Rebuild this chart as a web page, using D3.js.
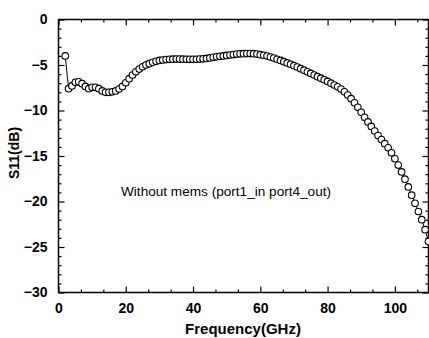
<!DOCTYPE html>
<html>
<head>
<meta charset="utf-8">
<script src="https://cdn.jsdelivr.net/npm/d3@7"></script>
<style>
  body { margin: 0; background: #fff; }
  svg { display: block; font-family: Arial, "Liberation Sans", sans-serif; }
</style>
</head>
<body>
<svg id="chart" width="429" height="338"></svg>
<script>
// S11 vs frequency, one point per GHz from 2 to 110
const freqStart = 2;
const s11 = [
  -4.0, -7.6, -7.3, -6.9, -6.85, -7.05, -7.35, -7.6, -7.45, -7.45,
  -7.6, -7.85, -8.0, -8.0, -7.95, -7.85, -7.65, -7.35, -6.95, -6.5,
  -6.1, -5.75, -5.45, -5.2, -5.0, -4.85, -4.7, -4.6, -4.5, -4.45,
  -4.4, -4.38, -4.36, -4.35, -4.35, -4.36, -4.37, -4.38, -4.38, -4.37,
  -4.35, -4.32, -4.28, -4.22, -4.16, -4.1, -4.05, -4.0, -3.95, -3.9,
  -3.85, -3.8, -3.77, -3.75, -3.74, -3.74, -3.76, -3.8, -3.86, -3.93,
  -4.02, -4.12, -4.24, -4.37, -4.5, -4.63, -4.77, -4.92, -5.07, -5.23,
  -5.4, -5.57, -5.75, -5.93, -6.1, -6.28, -6.45, -6.62, -6.8, -7.0,
  -7.2, -7.4, -7.65, -7.95, -8.3, -8.7, -9.15, -9.65, -10.2, -10.75,
  -11.25, -11.75, -12.25, -12.75, -13.2, -13.65, -14.1, -14.65, -15.3, -16.0,
  -16.75, -17.55, -18.4, -19.3, -20.2, -21.1, -22.0, -23.1, -24.4
];
const xTicks = [0, 20, 40, 60, 80, 100];
const yTicks = [0, -5, -10, -15, -20, -25, -30];
const xLabel = "Frequency(GHz)";
const yLabel = "S11(dB)";
const note = "Without mems (port1_in port4_out)";

const data = s11.map((v, i) => ({f: freqStart + i, v}));

const svg = d3.select("#chart");
const mL = 58.5, mR = 428.5, mT = 19.5, mB = 292.5;

const x = d3.scaleLinear().domain([0, 110]).range([mL, mR]);
const y = d3.scaleLinear().domain([-30, 0]).range([mB, mT]);

const xMinor = d3.range(0, 110.01, 20 / 3).filter(t => !xTicks.some(m => Math.abs(m - t) < 1e-6));
const yMinor = d3.range(-30, 0.01, 1).filter(t => t % 5 !== 0);

function axisG(axis, tx, ty) {
  const g = svg.append("g").attr("transform", `translate(${tx},${ty})`).call(axis);
  g.select(".domain").remove();
  g.selectAll(".tick line").attr("stroke", "#000").attr("stroke-width", 1.2);
  return g;
}

// bottom
const gx = axisG(d3.axisBottom(x).tickValues(xTicks).tickSizeInner(-6).tickPadding(11).tickFormat(d3.format("d")), 0, mB);
gx.selectAll("text").attr("font-size", 14).attr("font-weight", "bold").attr("fill", "#000");
axisG(d3.axisBottom(x).tickValues(xMinor).tickSize(-3).tickFormat(""), 0, mB);
// top
axisG(d3.axisTop(x).tickValues(xTicks).tickSize(-6).tickFormat(""), 0, mT);
axisG(d3.axisTop(x).tickValues(xMinor).tickSize(-3).tickFormat(""), 0, mT);
// left
const gy = axisG(d3.axisLeft(y).tickValues(yTicks).tickSizeInner(-6).tickPadding(11).tickFormat(d3.format("d")), mL, 0);
gy.selectAll("text").attr("font-size", 14).attr("font-weight", "bold").attr("fill", "#000");
axisG(d3.axisLeft(y).tickValues(yMinor).tickSize(-3).tickFormat(""), mL, 0);
// right
axisG(d3.axisRight(y).tickValues(yTicks).tickSize(-6).tickFormat(""), mR, 0);
axisG(d3.axisRight(y).tickValues(yMinor).tickSize(-3).tickFormat(""), mR, 0);

svg.append("rect")
  .attr("x", mL).attr("y", mT)
  .attr("width", mR - mL).attr("height", mB - mT)
  .attr("fill", "none").attr("stroke", "#000").attr("stroke-width", 1.5);

svg.append("path")
  .datum(data)
  .attr("fill", "none")
  .attr("stroke", "#000")
  .attr("stroke-width", 1)
  .attr("d", d3.line().x(d => x(d.f)).y(d => y(d.v)));

svg.append("g").selectAll("circle")
  .data(data)
  .join("circle")
  .attr("cx", d => x(d.f))
  .attr("cy", d => y(d.v))
  .attr("r", 3.3)
  .attr("fill", "#fff")
  .attr("stroke", "#000")
  .attr("stroke-width", 1.1);

svg.append("text")
  .attr("x", 243).attr("y", 334)
  .attr("text-anchor", "middle")
  .attr("font-size", 15).attr("font-weight", "bold")
  .text(xLabel);

svg.append("text")
  .attr("transform", "translate(19,153) rotate(-90)")
  .attr("text-anchor", "middle")
  .attr("font-size", 14).attr("font-weight", "bold")
  .text(yLabel);

svg.append("text")
  .attr("x", 121).attr("y", 196)
  .attr("font-size", 13.6)
  .text(note);
</script>
</body>
</html>
